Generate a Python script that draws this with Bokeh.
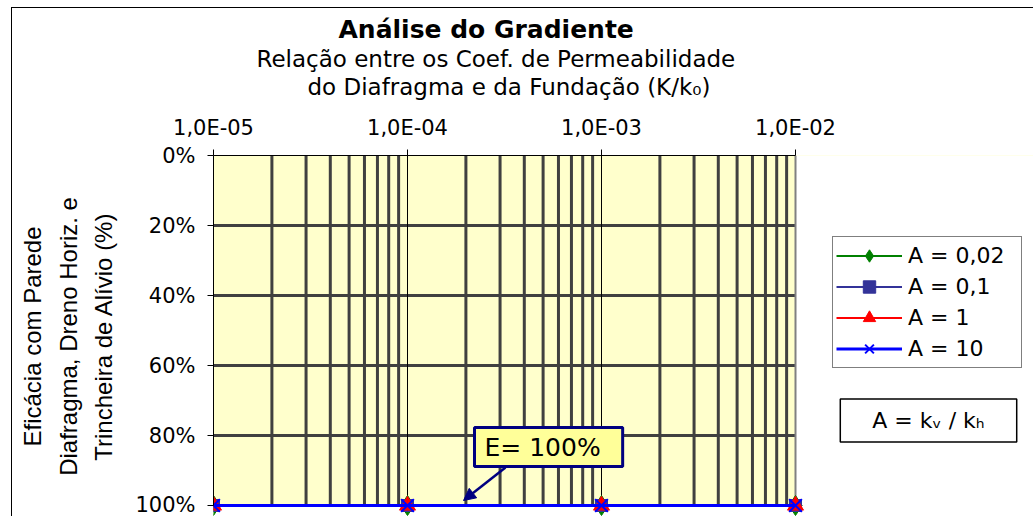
import math
from bokeh.plotting import figure
from bokeh.models import (Range1d, FixedTicker, CustomJSTickFormatter, NumeralTickFormatter,
                          Label, Legend, LegendItem, Arrow, NormalHead, BoxAnnotation, Title)
from bokeh.embed import file_html
from bokeh.resources import INLINE

# ---------------- data ----------------
k_ratio = [1e-5, 1e-4, 1e-3, 1e-2]          # K/k0
eff_a002 = [1.0, 1.0, 1.0, 1.0]              # A = 0,02
eff_a01 = [1.0, 1.0, 1.0, 1.0]               # A = 0,1
eff_a1 = [1.0, 1.0, 1.0, 1.0]                # A = 1
eff_a10 = [1.0, 1.0, 1.0, 1.0]               # A = 10
series_labels = ["A = 0,02", "A = 0,1", "A = 1", "A = 10"]

x_ticks = [1e-5, 1e-4, 1e-3, 1e-2]
x_tick_labels = ["1,0E-05", "1,0E-04", "1,0E-03", "1,0E-02"]
y_ticks = [0.0, 0.2, 0.4, 0.6, 0.8, 1.0]
y_grid_ticks = [0.2, 0.4, 0.6, 0.8]

title_text = "Análise do Gradiente"
subtitle_1 = "Relação entre os Coef. de Permeabilidade"
subtitle_2 = "do Diafragma e da Fundação (K/k\u2080)"
y_title_lines = ["Eficácia com Parede", "Diafragma, Dreno Horiz. e", "Trincheira de Alívio (%)"]
note_text = "E= 100%"
a_def_text = "A = k\u1d65 / k\u2095"

FONT = "DejaVu Sans"
YFONT = "Liberation Sans"

# ---------------- layout (page pixels) ----------------
OX, OY = 12, 8                  # canvas origin on the page (after margin + border)
W, H = 1034 - OX, 517 - OY
FL, FT, FR, FB = 213, 155, 1034, 517   # frame edges on the page
X0_PX, X1_PX = 213, 795                # pixel span of 1e-5 .. 1e-2
Y0_PX, Y1_PX = 155, 505                # pixel span of 0% .. 100%
dec_px = (X1_PX - X0_PX) / 3.0
x_right = 10 ** (math.log10(x_ticks[-1]) + (FR - X1_PX) / dec_px)
y_bottom = 1.0 + (FB - Y1_PX) / (Y1_PX - Y0_PX)

def sx(px):
    return px - FL
def sy(py):
    return FB - py

p = figure(width=W, height=H, x_axis_type="log", x_axis_location="above",
           x_range=Range1d(x_ticks[0], x_right), y_range=Range1d(y_bottom, 0.0),
           output_backend="svg", toolbar_location=None, title=None,
           min_border_left=FL - OX, min_border_right=0, min_border_top=FT - OY, min_border_bottom=0)
p.background_fill_color = "#FFFFCC"
p.border_fill_color = "white"
p.outline_line_color = None
p.styles = {"margin-left": "11px", "margin-top": "7px",
            "border-top": "1px solid black", "border-left": "1px solid black"}

# white areas outside the plot area (right of 1e-2, below 100%)
p.add_layout(BoxAnnotation(left=x_ticks[-1], right=x_right * 10, fill_color="white", fill_alpha=1.0,
                           line_color=None, level="image"))
p.add_layout(BoxAnnotation(top=1.0, bottom=y_bottom + 0.1, fill_color="white", fill_alpha=1.0,
                           line_color=None, level="image"))

# x axis (top, log)
xa = p.xaxis[0]
xa.ticker = FixedTicker(ticks=x_ticks)
xa.formatter = CustomJSTickFormatter(args=dict(tvals=x_ticks, tlabels=x_tick_labels), code="""
    let best = 0, bd = Infinity;
    for (let i = 0; i < tvals.length; i++) {
        const d = Math.abs(Math.log10(tick) - Math.log10(tvals[i]));
        if (d < bd) { bd = d; best = i; }
    }
    return tlabels[best];
""")
xa.bounds = (x_ticks[0], x_ticks[-1])
xa.major_label_text_font = FONT
xa.major_label_text_font_size = "21px"
xa.major_label_text_color = "black"
xa.major_label_standoff = 10
xa.major_tick_out = 6
xa.major_tick_in = 0
xa.minor_tick_line_color = None
xa.axis_line_color = "black"
# blank spacer label: pushes the title block up a little
xa.axis_label = " "
xa.axis_label_text_font = FONT
xa.axis_label_text_font_size = "8px"
xa.axis_label_standoff = 1

# y axis (left, inverted percentage)
ya = p.yaxis[0]
ya.ticker = FixedTicker(ticks=y_ticks)
ya.formatter = NumeralTickFormatter(format="0%")
ya.bounds = (0, 1)
ya.major_label_text_font = FONT
ya.major_label_text_font_size = "21px"
ya.major_label_text_color = "black"
ya.major_label_standoff = 12
ya.major_tick_out = 6
ya.major_tick_in = 0
ya.minor_tick_line_color = None
ya.axis_line_color = "black"
ya.axis_label = "\n".join(y_title_lines)
ya.axis_label_text_font = YFONT
ya.axis_label_text_font_size = "24px"
ya.axis_label_text_font_style = "normal"
ya.axis_label_text_color = "black"
ya.axis_label_text_line_height = 1.33
ya.axis_label_standoff = 15

# grids (drawn only inside the plot area)
p.xgrid.visible = False
p.ygrid.visible = False
n_h = len(y_grid_ticks)
p.segment(x0=[x_ticks[0]] * n_h, y0=y_grid_ticks, x1=[x_ticks[-1]] * n_h, y1=y_grid_ticks,
          line_color="#404040", line_width=3, level="underlay")
minor_x = [m * d for d in x_ticks[:-1] for m in range(2, 10)]
p.segment(x0=minor_x, y0=[0.0] * len(minor_x), x1=minor_x, y1=[1.0] * len(minor_x),
          line_color="#404040", line_width=3, level="underlay")
p.segment(x0=x_ticks[1:-1], y0=[0.0] * 2, x1=x_ticks[1:-1], y1=[1.0] * 2,
          line_color="black", line_width=1, level="underlay")
p.segment(x0=x_ticks[-1:], y0=[0.0], x1=x_ticks[-1:], y1=[1.0],
          line_color="#808080", line_width=2, level="underlay")

# series
styles = [
    (eff_a002, "#008000", "diamond", 20, 1, 2),
    (eff_a01, "#333399", "square", 12, 1, 2),
    (eff_a1, "#FF0000", "triangle", 16, 1, 2),
    (eff_a10, "#0000FF", "x", 18, 2, 3),
]
items = []
for (vals, col, mk, sz, mlw, llw), lab in zip(styles, series_labels):
    lr = p.line(k_ratio, vals, line_color=col, line_width=llw)
    sr = p.scatter(k_ratio, vals, marker=mk, size=sz, fill_color=col, line_color=col, line_width=mlw)
    items.append(LegendItem(label=lab, renderers=[lr, sr]))

legend = Legend(items=items, location=(sx(832), sy(368)),
                label_text_font=FONT, label_text_font_size="22px", label_text_color="black",
                glyph_width=66, glyph_height=31, label_height=31, label_width=110,
                label_standoff=6, spacing=0, padding=3, margin=0,
                border_line_color="black", border_line_width=1,
                background_fill_color="white", background_fill_alpha=1.0)
p.add_layout(legend, "center")

# titles (stacked above the top axis; first added is closest to the frame)
p.add_layout(Title(text=subtitle_2, align="left", offset=94, text_font=FONT, text_font_size="23px",
                   text_font_style="normal", text_color="black", standoff=0), "above")
p.add_layout(Title(text=subtitle_1, align="left", offset=43, text_font=FONT, text_font_size="23px",
                   text_font_style="normal", text_color="black", standoff=0), "above")
p.add_layout(Title(text=title_text, align="left", offset=125, text_font=FONT, text_font_size="25px",
                   text_font_style="bold", text_color="black", standoff=0), "above")

# annotation arrow + box
p.add_layout(Arrow(x_start=sx(505), y_start=sy(467), x_end=sx(463), y_end=sy(500),
                   start_units="screen", end_units="screen",
                   line_color="#000080", line_width=2.5,
                   end=NormalHead(size=12, fill_color="#000080", line_color="#000080")))
p.add_layout(Label(x=sx(474), y=sy(446.5), x_units="screen", y_units="screen", text=note_text,
                   text_font=FONT, text_font_size="25px", text_color="black",
                   text_align="left", text_baseline="middle",
                   background_fill_color="#FFFF99", border_line_color="#000080", border_line_width=3,
                   padding=dict(left=10, right=22, top=5, bottom=5)))

# A = kv / kh box
p.add_layout(Label(x=sx(928), y=sy(420), x_units="screen", y_units="screen", text=a_def_text,
                   text_font=FONT, text_font_size="22px", text_color="black",
                   text_align="center", text_baseline="middle",
                   background_fill_color="white", border_line_color="black", border_line_width=1.5,
                   padding=dict(left=32, right=32, top=9, bottom=9)))

open("out.html", "w").write(file_html(p, INLINE))
